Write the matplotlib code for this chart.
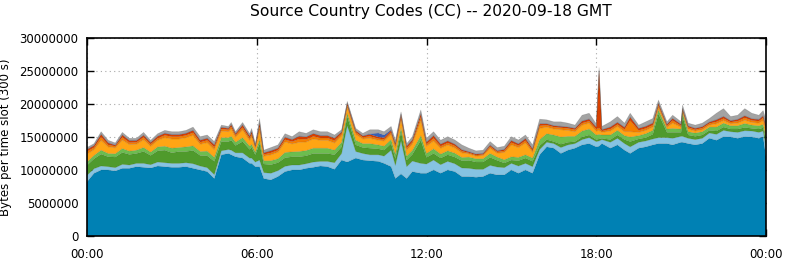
import matplotlib
matplotlib.use('Agg')
import matplotlib.pyplot as plt
import numpy as np

# time of day in hours, values in millions of bytes per slot
hours = [0.0, 0.25, 0.5, 0.75, 1.0, 1.25, 1.5, 1.75, 2.0, 2.25, 2.5, 2.75,
         3.0, 3.25, 3.5, 3.75, 4.0, 4.25, 4.5, 4.75, 5.0, 5.1, 5.25, 5.5,
         5.75, 5.82, 5.95, 6.1, 6.25, 6.5, 6.75, 7.0, 7.25, 7.5, 7.75, 8.0,
         8.25, 8.5, 8.75, 9.0, 9.2, 9.5, 9.75, 10.0, 10.3, 10.5, 10.75, 10.9,
         11.1, 11.3, 11.5, 11.8, 12.0, 12.25, 12.5, 12.75, 13.0, 13.25, 13.5,
         13.75, 14.0, 14.25, 14.5, 14.75, 15.0, 15.25, 15.5, 15.75, 16.0,
         16.25, 16.5, 16.75, 17.0, 17.25, 17.5, 17.75, 18.0, 18.1, 18.2, 18.5,
         18.75, 19.0, 19.2, 19.5, 19.75, 20.0, 20.2, 20.5, 20.7, 21.0, 21.05,
         21.25, 21.5, 21.75, 22.0, 22.25, 22.5, 22.75, 23.0, 23.25, 23.5,
         23.75, 23.9, 24.0]

cc_blue = [8.2, 9.5, 10.0, 10.0, 9.85, 10.25, 10.25, 10.5, 10.4, 10.3, 10.6, 10.5,
           10.4, 10.4, 10.5, 10.25, 10.0, 9.75, 8.7, 12.3, 12.5, 12.3, 12.0, 11.8,
           11.0, 11.0, 10.5, 10.5, 8.7, 8.5, 9.0, 9.75, 10.0, 10.0, 10.25, 10.4,
           10.6, 10.5, 10.1, 11.5, 11.2, 11.8, 11.5, 11.4, 11.3, 11.0, 10.5, 8.7,
           9.4, 8.7, 9.75, 9.5, 9.5, 10.0, 9.5, 10.0, 9.75, 9.0, 9.0,
           8.9, 9.0, 9.5, 9.25, 9.25, 10.0, 9.5, 10.0, 9.5, 12.3,
           13.5, 13.3, 12.5, 13.0, 13.3, 13.8, 14.0, 13.5, 13.6, 14.0, 13.3,
           13.8, 13.0, 12.5, 13.3, 13.5, 13.8, 14.0, 14.0, 13.8, 14.2, 14.2,
           14.0, 13.8, 14.0, 14.8, 14.5, 15.05, 15.0, 14.8, 15.05, 15.0,
           14.8, 15.0, 12.0]
cc_lightblue = [1.0, .7, .6, .5, .5, .6, .5, .5, .6, .5, .6, .6,
                .6, .6, .6, .7, .6, .6, .6, .6, .6, .7, .6, .8,
                .8, .8, .7, 1.0, .9, 1.0, .9, .8, .75, .75, .7, .8,
                .7, .8, 1.0, 1.0, 5.5, 1.0, 1.0, .9, 1.0, 1.1, 2.5, 2.0,
                5.0, 1.8, 1.6, 1.5, 1.4, 1.5, 1.3, 1.3, 1.2, 1.3, 1.25,
                1.2, 1.1, 1.2, 1.2, 1.1, 1.0, 1.1, 1.0, 1.0, .8,
                .7, .7, .9, .8, .7, .8, .9, .8, .8, .6, .9,
                1.0, 1.0, 1.0, .9, .9, .9, .9, .9, 1.0, .9, .9,
                .8, .8, .8, .8, .9, .95, .8, .9, .9, .9,
                .9, .9, 1.5]
cc_green = [1.5, 1.5, 1.8, 1.5, 1.6, 1.8, 1.6, 1.5, 1.8, 1.4, 1.7, 1.9,
            1.6, 1.8, 1.7, 2.0, 1.6, 1.8, 2.0, 1.4, 1.2, 1.5, 1.1, 1.7,
            1.3, 1.6, 1.1, 2.5, 1.3, 1.3, 1.2, 1.3, 1.25, 1.25, 1.2, 1.3,
            1.2, 1.2, 1.2, 1.0, 1.4, 1.0, .9, 1.0, .9, .9, 1.0, 1.0,
            1.4, 1.0, 1.0, 3.5, 1.0, 1.0, 1.0, 1.0, 1.0, 1.1, 1.2,
            1.1, 1.1, 1.2, 1.0, .7, .5, .8, .8, .8, .6,
            .4, .3, .5, .4, .3, .4, .4, .3, .3, .2, .4,
            .5, .6, .8, .5, .5, .7, 3.6, .8, .9, .6, 3.0,
            .5, .5, .5, .4, .5, .5, .4, .5, .5, .4,
            .5, .5, .8]
cc_lightgreen = [.5, .5, .6, .5, .5, .6, .5, .5, .6, .5, .6, .6,
                 .7, .6, .7, .7, .6, .7, .6, .6, .6, .6, .5, .6,
                 .5, .5, .4, .6, .5, .6, .6, .8, .75, .8, .8, .8,
                 .8, .8, .7, .7, .5, .7, .6, .7, .6, .6, .6, .7,
                 .6, .6, .6, .7, .6, .7, .6, .6, .6, .5, .5,
                 .5, .5, .6, .5, .5, .5, .5, .5, .5, .9,
                 .9, 1.0, 1.1, .9, .8, .9, .9, .7, .7, .5, .7,
                 .7, .6, .7, .5, .6, .6, .6, .5, .6, .5, .5,
                 .5, .5, .5, .5, .6, .6, .5, .5, .6, .5,
                 .5, .5, .8]
cc_orange = [1.2, .9, 1.5, 1.0, .9, 1.3, 1.0, .9, 1.2, .9, 1.0, 1.3,
             1.4, 1.3, 1.4, 1.6, 1.1, 1.3, 1.2, 1.0, .9, 1.1, .8, 1.2,
             .9, 1.2, .6, 1.5, .7, .9, 1.0, 1.6, 1.2, 1.4, 1.3, 1.4,
             1.2, 1.2, 1.1, 1.0, .9, .9, .7, .8, .7, .8, .8, 1.0,
             1.2, .9, 1.0, 2.3, 1.1, 1.2, .9, .9, .8, .7, .5,
             .4, .5, .8, .6, 1.1, 1.8, 1.5, 1.8, .9, 1.7,
             1.0, .9, 1.1, .9, .7, .9, .9, .6, .6, .4, .6,
             .6, .6, .8, .5, .5, .5, .4, .3, .8, .3, .3,
             .4, .3, .3, .3, .5, .4, .3, .4, .5, .4,
             .4, .6, .8]
cc_darkorange = [.4, .3, .5, .3, .25, .4, .3, .3, .35, .3, .3, .35,
                 .35, .35, .35, .4, .3, .35, .35, .3, .3, .35, .3, .35,
                 .3, .35, .2, .5, .25, .3, .3, .35, .35, .5, .4, .4,
                 .35, .35, .35, .3, .3, .3, .25, .3, .25, .25, .3, .3,
                 .4, .3, .3, .5, .3, .4, .3, .3, .3, .25, .15,
                 .15, .15, .25, .2, .25, .35, .3, .35, .25, .4,
                 .3, .3, .3, .3, .3, .3, .3, .3, .4, .2, .3,
                 .3, .35, 1.7, .3, .3, .3, .3, .2, .4, .2, .2,
                 .25, .2, .25, .25, .3, .3, .25, .3, .35, .3,
                 .3, .4, .4]
cc_red = [.3, .3, .4, .3, .15, .35, .3, .25, .3, .25, .3, .3,
          .3, .3, .3, .35, .3, .3, .35, .25, .2, .3, .2, .35,
          .3, .35, .2, .5, .25, .3, .3, .35, .3, .4, .35, .4,
          .35, .35, .35, .25, .3, .25, .2, .3, .25, .25, .3, .3,
          .4, .3, .3, .5, .3, .4, .3, .3, .25, .2, .15,
          .15, .15, .2, .15, .2, .3, .25, .3, .25, .3,
          .2, .2, .2, .2, .2, .3, .3, .3, 8.6, .2, .3,
          .3, .3, .5, .3, .3, .3, .3, .2, .3, .2, .2,
          .2, .2, .2, .2, .3, .3, .2, .25, .3, .25,
          .25, .3, .4]
cc_navy = [.05, .05, .05, .05, .05, .05, .05, .05, .05, .05, .05, .05,
           .05, .05, .05, .05, .05, .05, .05, .05, .05, .05, .05, .05,
           .05, .05, .05, .05, .05, .05, .05, .05, .05, .05, .05, .05,
           .05, .05, .05, .05, .05, .05, .05, .1, .6, .4, .1, .05,
           .05, .05, .05, .05, .05, .05, .05, .05, .05, .05, .05,
           .05, .05, .05, .05, .05, .05, .05, .05, .05, .05,
           .05, .05, .05, .05, .05, .05, .05, .05, .05, .05, .05,
           .05, .05, .05, .05, .05, .05, .05, .05, .05, .05, .05,
           .05, .05, .05, .05, .05, .05, .05, .05, .05, .05,
           .05, .05, .05]
cc_gray = [.25, .25, .35, .35, .3, .35, .3, .3, .4, .3, .35, .4,
           .4, .4, .4, .45, .5, .45, .45, .3, .25, .3, .25, .35,
           .35, .45, .25, .65, .35, .45, .45, .5, .4, .65, .5, .55,
           .55, .55, .45, .3, .25, .3, .35, .6, .5, .5, .5, .45,
           .35, .35, .45, .55, .55, .55, .55, .6, .6, .7, .5,
           .45, .45, .5, .45, .45, .55, .55, .5, .55, .65,
           .55, .55, .65, .55, .45, .85, .85, .45, .45, .45, .75,
           .85, .6, .55, .45, .65, .65, .45, .35, .45, .35, .5,
           .4, .45, .5, .5, .95, 1.15, .6, .6, 1.05, .8,
           .6, .75, .85]

layers = [cc_blue, cc_lightblue, cc_green, cc_lightgreen, cc_orange,
          cc_darkorange, cc_red, cc_navy, cc_gray]
colors = ['#0081b4', '#86c3e2', '#4f9a2c', '#6cbd4f', '#ffa514',
          '#f57f00', '#d84000', '#3a5fb4', '#a3a3a3']

t = np.array(hours)
vals = np.array(layers) * 1e6

fig = plt.figure(figsize=(7.86, 2.61), dpi=100)
ax = fig.add_axes([87 / 786, 25 / 261, 679 / 786, 198 / 261])

ax.stackplot(t, vals, colors=colors, linewidth=0, zorder=2)
tops = np.cumsum(vals, axis=0)
for row in tops:
    ax.plot(t, row, color='#000000', alpha=0.15, lw=0.5, zorder=3)

ax.set_xlim(0, 24)
ax.set_ylim(0, 30e6)
ax.set_xticks([0, 6, 12, 18, 24])
ax.set_xticklabels(['00:00', '06:00', '12:00', '18:00', '00:00'])
ax.set_yticks(np.arange(0, 30e6 + 1, 5e6))
ax.set_yticklabels([str(int(v)) for v in np.arange(0, 30e6 + 1, 5e6)])
ax.tick_params(direction='in', length=5, top=True, right=True, labelsize=8.5,
               pad=6, width=1, zorder=4)
ax.tick_params(axis='x', pad=9)
ax.grid(True, color='#a8a8a8', linestyle=(0, (1, 3)), linewidth=0.8, zorder=1)
ax.set_axisbelow(True)
for s in ax.spines.values():
    s.set_linewidth(1.2)
    s.set_zorder(5)

ax.set_ylabel('Bytes per time slot (300 s)', fontsize=8.5)
ax.yaxis.set_label_coords(-75 / 679, 0.5)
fig.text(431 / 786, 1 - 12 / 261, 'Source Country Codes (CC) -- 2020-09-18 GMT',
         ha='center', va='center', fontsize=11.2)

fig.savefig('out.png', dpi=100)
